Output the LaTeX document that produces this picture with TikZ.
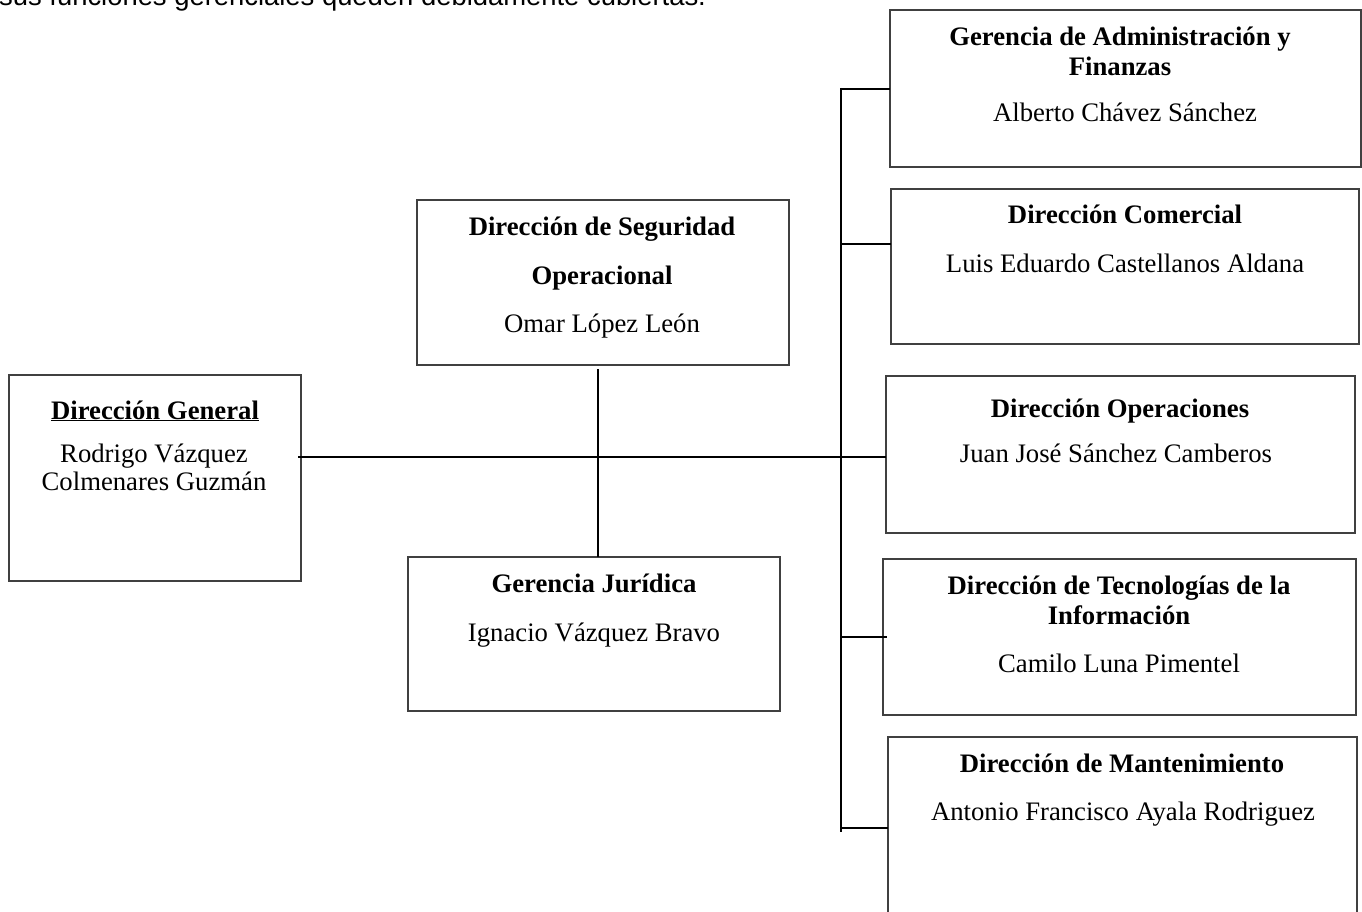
\documentclass[tikz,border=0pt]{standalone}
\usepackage{fontspec}
\setmainfont{Liberation Serif}
\newfontfamily\arialfont{Liberation Sans}
\begin{document}
\begin{tikzpicture}[x=1pt,y=-1pt,
  box/.style={draw=black!75,line width=1.2pt,fill=none,inner sep=0pt,outer sep=0pt},
  conn/.style={draw=black,line width=2.7pt},
  ttl/.style={anchor=base,inner sep=0pt,font=\fontsize{26.7}{32}\selectfont\bfseries},
  nm/.style={anchor=base,inner sep=0pt,font=\fontsize{26.7}{32}\selectfont}]
\clip (0,0) rectangle (1362,912);
\fill[white] (0,0) rectangle (1362,912);

% running text above the chart
\node[anchor=base west,inner sep=0pt,font=\arialfont\fontsize{27.4}{32}\selectfont] (intro) at (-1,6)
  {sus funciones gerenciales queden debidamente cubiertas.};

% boxes
\node[box,minimum width=471pt,minimum height=157pt] (gaf)  at (1125.5,88.5) {};
\node[box,minimum width=468pt,minimum height=155pt] (dcom) at (1125,266.5) {};
\node[box,minimum width=469pt,minimum height=157pt] (dop)  at (1120.5,454.5) {};
\node[box,minimum width=473pt,minimum height=156pt] (dti)  at (1119.5,637) {};
\node[box,minimum width=469pt,minimum height=200pt] (dman) at (1122.5,837) {};
\node[box,minimum width=292pt,minimum height=206pt] (dg)   at (155,478) {};
\node[box,minimum width=372pt,minimum height=165pt] (dso)  at (603,282.5) {};
\node[box,minimum width=372pt,minimum height=154pt] (gj)   at (594,634) {};

% texts
\node[ttl] (gaf1) at (1120,46) {Gerencia de Administración y};
\node[ttl] (gaf2) at (1120,76) {Finanzas};
\node[nm]  (gaf3) at (1125,122) {Alberto Chávez Sánchez};

\node[ttl] (dcom1) at (1125,223) {Dirección Comercial};
\node[nm]  (dcom2) at (1125,272) {Luis Eduardo Castellanos Aldana};

\node[ttl] (dop1) at (1120,417) {Dirección Operaciones};
\node[nm]  (dop2) at (1116,462) {Juan José Sánchez Camberos};

\node[ttl] (dti1) at (1119,594) {Dirección de Tecnologías de la};
\node[ttl] (dti2) at (1119,624) {Información};
\node[nm]  (dti3) at (1119,672) {Camilo Luna Pimentel};

\node[ttl] (dman1) at (1122,772) {Dirección de Mantenimiento};
\node[nm]  (dman2) at (1123,820) {Antonio Francisco Ayala Rodriguez};

\node[ttl] (dg1) at (155,419) {\underline{Dirección General}};
\node[nm]  (dg2) at (154,462) {Rodrigo Vázquez};
\node[nm]  (dg3) at (154,490) {Colmenares Guzmán};

\node[ttl] (dso1) at (602,236) {Dirección de Seguridad};
\node[ttl] (dso2) at (602,284) {Operacional};
\node[nm]  (dso3) at (602,332) {Omar López León};

\node[ttl] (gj1) at (594,592) {Gerencia Jurídica};
\node[nm]  (gj2) at (594,641) {Ignacio Vázquez Bravo};

% connector points
\coordinate (bt) at (841,88);
\coordinate (bb) at (841,832);
\coordinate (j)  at (841,457);
\coordinate (b1) at (841,89);
\coordinate (b2) at (841,244);
\coordinate (b3) at (841,457);
\coordinate (b4) at (841,637);
\coordinate (b5) at (841,828);
\coordinate (c1) at (598,369);

% connectors
\draw[conn] (bt) -- (bb);
\draw[conn] ([xshift=-3pt]dg.east |- j) -- (j);
\draw[conn] (c1) -- (c1 |- gj.north);
\draw[conn] (b1) -- (b1 -| gaf.west);
\draw[conn] (b2) -- (b2 -| dcom.west);
\draw[conn] (b3) -- (b3 -| dop.west);
\draw[conn] (b4) -- ([xshift=4pt]b4 -| dti.west);
\draw[conn] (b5) -- (b5 -| dman.west);
\end{tikzpicture}
\end{document}
